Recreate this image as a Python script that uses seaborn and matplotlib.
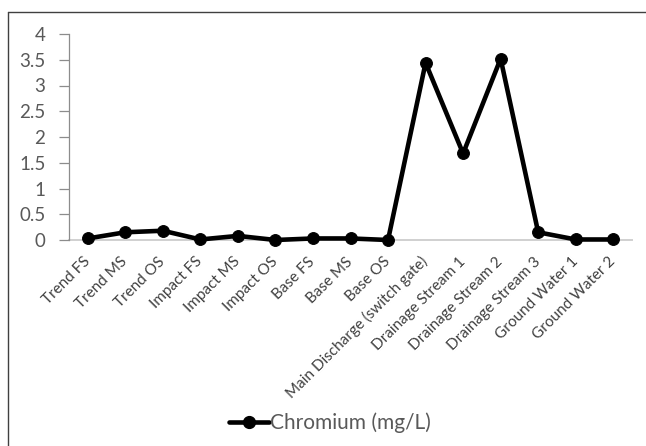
import matplotlib
matplotlib.use("Agg")
import matplotlib.pyplot as plt
from matplotlib.lines import Line2D
import seaborn as sns
import pandas as pd

categories = ["Trend FS", "Trend MS", "Trend OS", "Impact FS", "Impact MS", "Impact OS",
              "Base FS", "Base MS", "Base OS", "Main Discharge (switch gate)",
              "Drainage Stream 1", "Drainage Stream 2", "Drainage Stream 3",
              "Ground Water 1", "Ground Water 2"]
chromium = [0.03, 0.15, 0.18, 0.01, 0.08, 0.0, 0.03, 0.03, 0.0, 3.44,
            1.68, 3.52, 0.15, 0.01, 0.01]
series_name = "Chromium (mg/L)"
yticks = [0, 0.5, 1, 1.5, 2, 2.5, 3, 3.5, 4]
ytick_labels = ["0", "0.5", "1", "1.5", "2", "2.5", "3", "3.5", "4"]

sns.set_theme(style="white")
plt.rcParams["font.family"] = ["Lato", "DejaVu Sans"]

W, H = 646, 446
fig = plt.figure(figsize=(W / 100, H / 100), dpi=100)
fig.patch.set_facecolor("white")

ax = fig.add_axes([69 / W, 1 - 240 / H, (632 - 69) / W, 206 / H])
df = pd.DataFrame({"Sample": categories, "Value": chromium})
sns.lineplot(data=df, x="Sample", y="Value", ax=ax, sort=False, color="black",
             linewidth=3.3, marker="o", markersize=8.5, markeredgecolor="black",
             label=series_name, legend=False, clip_on=False)

ax.set_xlim(-0.5, len(categories) - 0.5)
ax.set_ylim(0, 4)
ax.set_yticks(yticks)
ax.set_yticklabels(ytick_labels)
ax.set_xlabel("")
ax.set_ylabel("")

for s in ["top", "right"]:
    ax.spines[s].set_visible(False)
ax.spines["left"].set_color("#8c8c8c")
ax.spines["left"].set_linewidth(0.9)
ax.spines["bottom"].set_color("#d0d0d0")
ax.spines["bottom"].set_linewidth(1.4)
ax.spines["bottom"].set_zorder(0)

ax.tick_params(axis="y", which="major", length=7, width=0.9, color="#8c8c8c",
               labelcolor="#595959", labelsize=13.5, pad=10, left=True, direction="out")
ax.tick_params(axis="x", length=0, labelcolor="#404040", labelsize=11, pad=14)
for lbl in ax.get_xticklabels():
    lbl.set_rotation(45)
    lbl.set_ha("right")
    lbl.set_va("center")
    lbl.set_rotation_mode("anchor")

handle = Line2D([], [], color="black", linewidth=3.3, marker="o", markersize=8.5)
fig.legend([handle], [series_name], loc="center", bbox_to_anchor=(330 / W, 1 - 423 / H),
           frameon=False, fontsize=15, labelcolor="#595959", handlelength=1.95,
           handletextpad=0.05, numpoints=1)

# outer chart frame (left and top edges visible)
fig.add_artist(Line2D([8 / W, 8 / W], [0, 1 - 12 / H], transform=fig.transFigure,
                      color="#404040", linewidth=1.0))
fig.add_artist(Line2D([8 / W, 1], [1 - 12 / H, 1 - 12 / H], transform=fig.transFigure,
                      color="#404040", linewidth=1.0))

fig.savefig("out.png", dpi=100, facecolor="white")
